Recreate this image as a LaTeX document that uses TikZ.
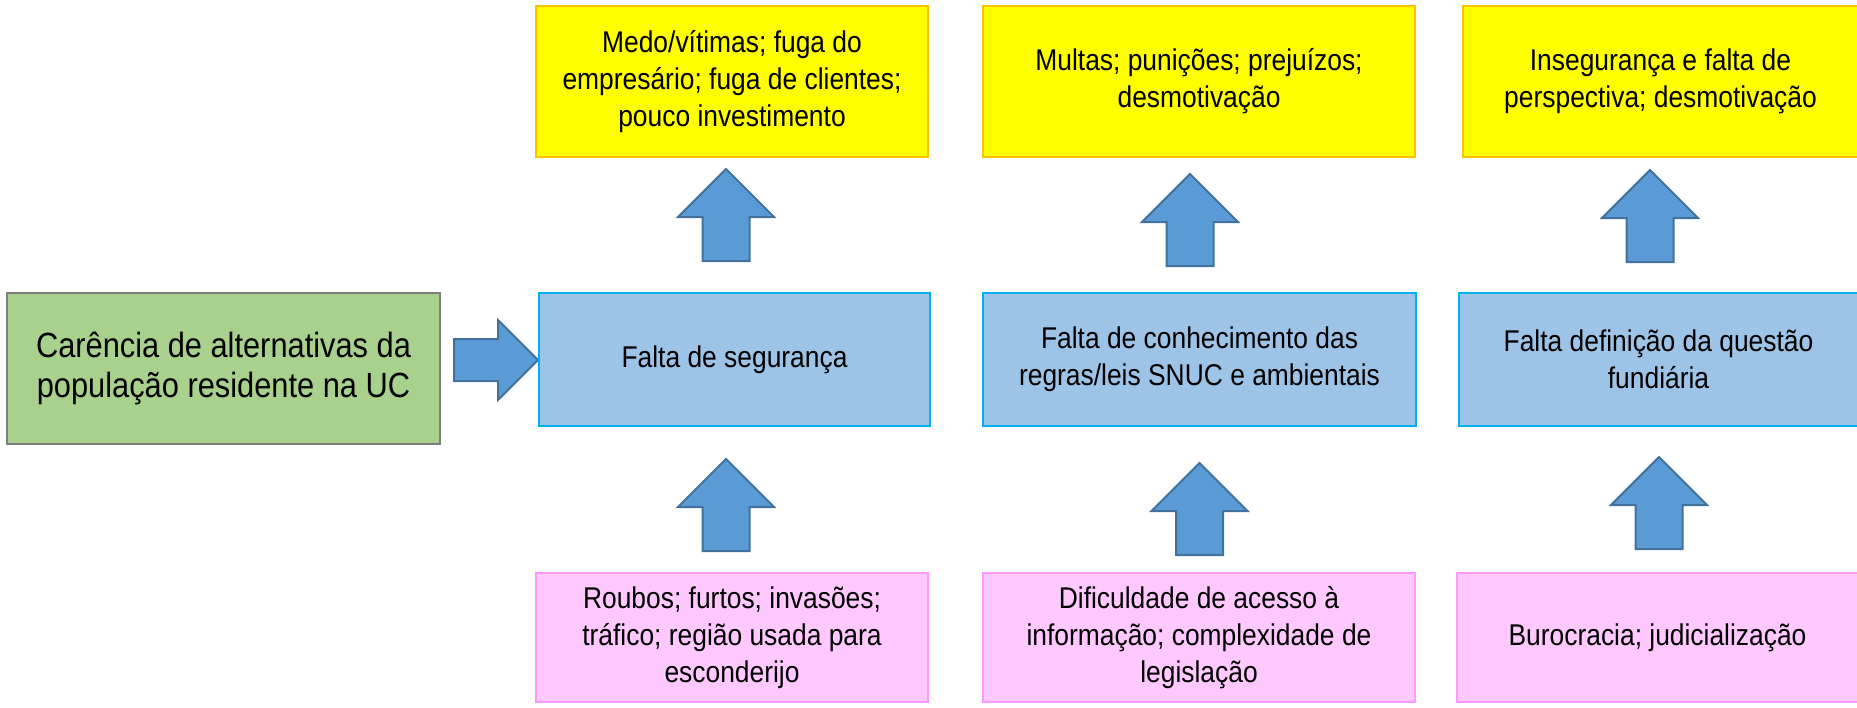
\documentclass[tikz,border=0pt]{standalone}
\usepackage{fontspec}
\setmainfont{Liberation Sans}[FakeStretch=0.88]
\usetikzlibrary{shapes.arrows}

\definecolor{effectfill}{HTML}{FFFF00}
\definecolor{effectline}{HTML}{FFC000}
\definecolor{problemfill}{HTML}{9DC3E6}
\definecolor{problemline}{HTML}{00B0F0}
\definecolor{causefill}{HTML}{FFC9FF}
\definecolor{causeline}{HTML}{FF99FF}
\definecolor{rootfill}{HTML}{A9D18E}
\definecolor{rootline}{HTML}{7F7F7F}
\definecolor{arrowfill}{HTML}{5B9BD5}
\definecolor{arrowline}{HTML}{41719C}

\tikzset{
  box/.style={draw, line width=0.8pt, align=center, inner sep=0pt,
    font=\fontsize{12}{14.9}\selectfont},
  effect/.style={box, draw=effectline, fill=effectfill, minimum height=60.4pt},
  problem/.style={box, draw=problemline, fill=problemfill, minimum height=53.2pt},
  cause/.style={box, draw=causeline, fill=causefill, minimum height=51.6pt},
  root/.style={box, draw=rootline, fill=rootfill, minimum width=173.2pt,
    minimum height=60.4pt, font=\fontsize{14}{16.1}\selectfont},
  blockarrow/.style={single arrow, draw=arrowline, fill=arrowfill,
    line width=0.8pt, inner xsep=0pt, anchor=tail},
  uparrow/.style={blockarrow, rotate=90, minimum height=36.8pt,
    inner ysep=9pt, single arrow head extend=9.8pt},
  rightarrow/.style={blockarrow, minimum height=33.6pt,
    inner ysep=8pt, single arrow head extend=7.6pt}
}

\begin{document}
\begin{tikzpicture}[x=0.4pt, y=-0.4pt]
  \useasboundingbox (0,0) rectangle (1857,707);

  % root
  \node[root] (root) at (223.5,368.5)
    {Carência de alternativas da\\população residente na UC};
  \node[rightarrow] (r0) at (453,360) {};

  % problems
  \node[problem, minimum width=156.4pt] (b1) at (734.5,359.5) {Falta de segurança};
  \node[problem, minimum width=173.2pt] (b2) at (1199.5,359.5)
    {Falta de conhecimento das\\regras/leis SNUC e ambientais};
  \node[problem, minimum width=159.6pt] (b3) at (1658.5,359.5)
    {Falta definição da questão\\fundiária};

  % effects
  \node[effect, minimum width=156.8pt] (e1) at (732,81.5)
    {Medo/vítimas; fuga do\\empresário; fuga de clientes;\\pouco investimento};
  \node[effect, minimum width=172.8pt] (e2) at (1199,81.5)
    {Multas; punições; prejuízos;\\desmotivação};
  \node[effect, minimum width=158pt] (e3) at (1660.5,81.5)
    {Insegurança e falta de\\perspectiva; desmotivação};

  % causes
  \node[cause, minimum width=156.8pt] (c1) at (732,637.5)
    {Roubos; furtos; invasões;\\tráfico; região usada para\\esconderijo};
  \node[cause, minimum width=172.8pt] (c2) at (1199,637.5)
    {Dificuldade de acesso à\\informação; complexidade de\\legislação};
  \node[cause, minimum width=160.4pt] (c3) at (1657.5,637.5)
    {Burocracia; judicialização};

  % arrows
  \node[uparrow] (u1) at (726,262) {};
  \node[uparrow] (u2) at (1190,267) {};
  \node[uparrow] (u3) at (1650,263) {};
  \node[uparrow] (d1) at (726,552) {};
  \node[uparrow] (d2) at (1199.5,556) {};
  \node[uparrow] (d3) at (1659,550) {};
\end{tikzpicture}
\end{document}
